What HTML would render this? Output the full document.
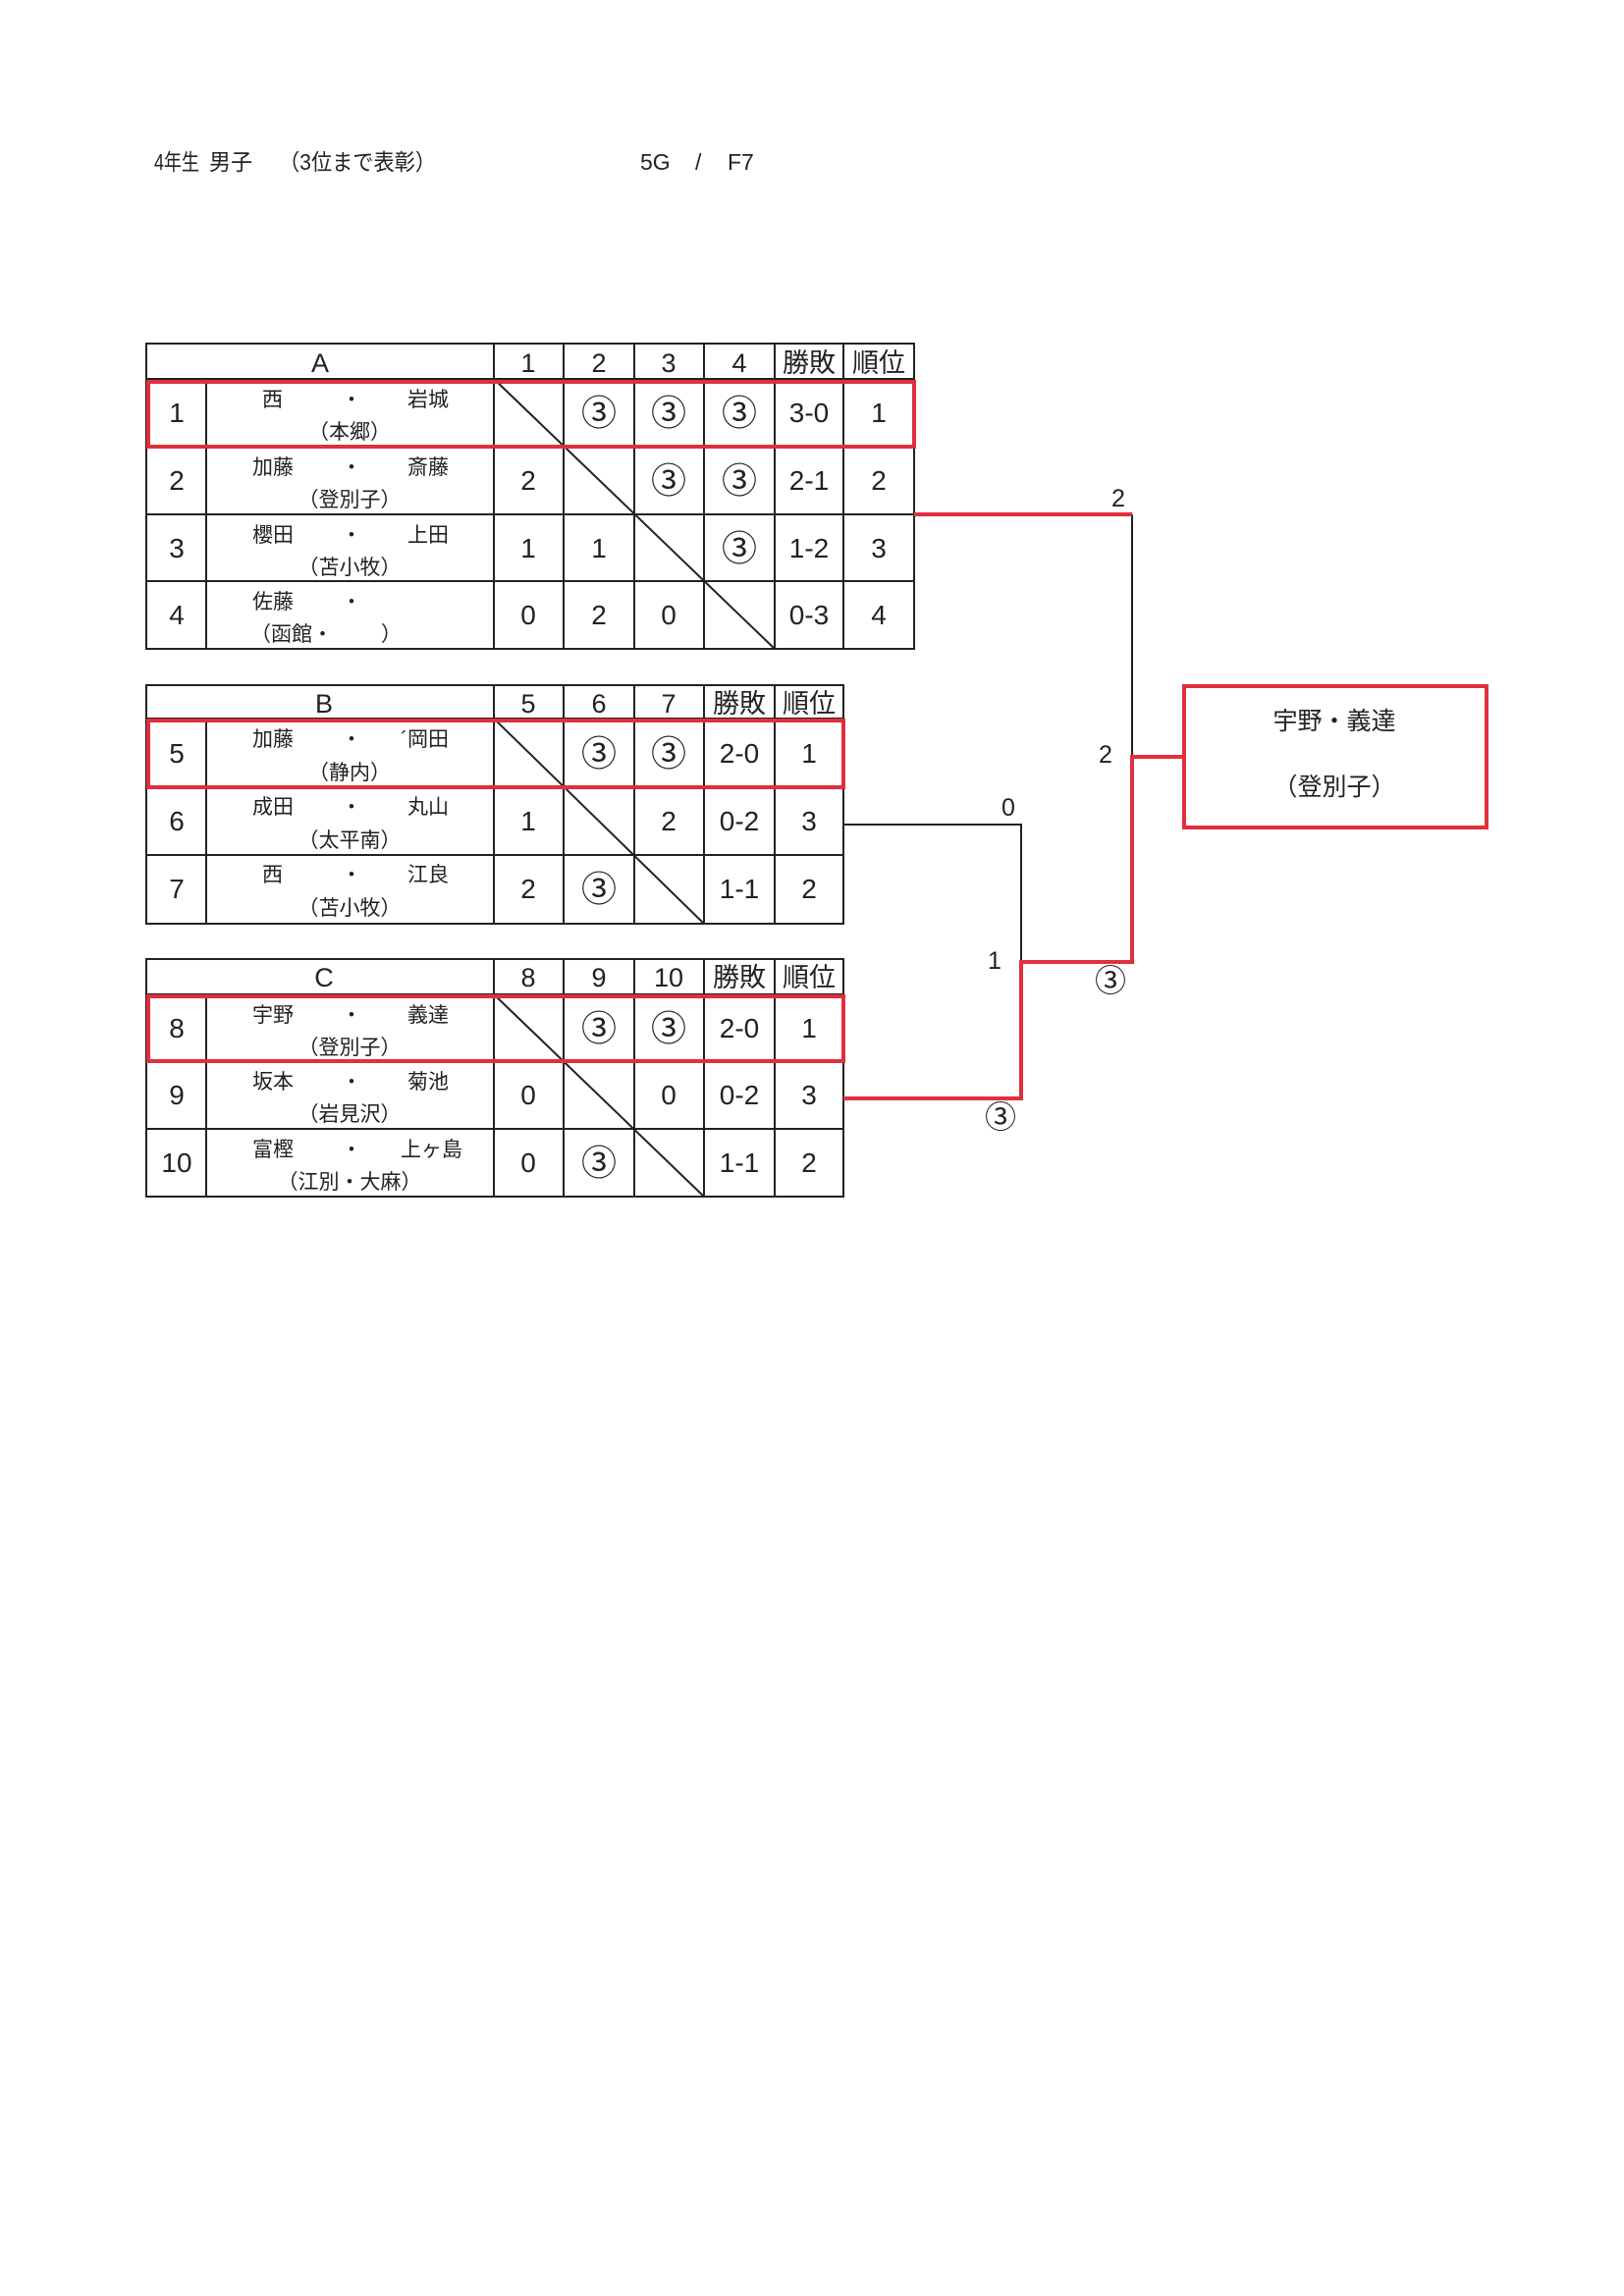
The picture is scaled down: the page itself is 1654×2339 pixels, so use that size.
<!DOCTYPE html>
<html><head><meta charset="utf-8"><style>
html,body{margin:0;padding:0;background:#fff;}
svg{display:block;}
text{font-family:"Liberation Sans","Noto Sans CJK JP",sans-serif;fill:#222;}
.n{font-size:21px;}
.v{font-size:28px;text-anchor:middle;}
.h{font-size:27px;text-anchor:middle;}
.c{text-anchor:middle;}
.o{font-size:36px;text-anchor:middle;}
</style></head><body>
<svg width="1654" height="2339" viewBox="0 0 1654 2339" xmlns="http://www.w3.org/2000/svg">
<g font-size="23">
<text x="157" y="173" textLength="46" lengthAdjust="spacingAndGlyphs">4年生</text><text x="213" y="173" textLength="44" lengthAdjust="spacingAndGlyphs">男子</text>
<text x="284" y="173" textLength="160" lengthAdjust="spacingAndGlyphs">（3位まで表彰）</text>
<text x="652" y="173">5G</text><text x="708" y="173">/</text><text x="741" y="173">F7</text>
</g>
<g stroke="#222" stroke-width="2" fill="none">
<rect x="149" y="350" width="782" height="311"/>
<line x1="149" y1="386" x2="931" y2="386"/><line x1="149" y1="455" x2="931" y2="455"/>
<line x1="149" y1="524" x2="931" y2="524"/><line x1="149" y1="592" x2="931" y2="592"/>
<line x1="210" y1="386" x2="210" y2="661"/>
<line x1="503" y1="350" x2="503" y2="661"/><line x1="574" y1="350" x2="574" y2="661"/>
<line x1="646" y1="350" x2="646" y2="661"/><line x1="717" y1="350" x2="717" y2="661"/>
<line x1="789" y1="350" x2="789" y2="661"/><line x1="859" y1="350" x2="859" y2="661"/>
<line x1="503" y1="386" x2="789" y2="661"/>
<rect x="149" y="698" width="710" height="243"/>
<line x1="149" y1="732" x2="859" y2="732"/><line x1="149" y1="802" x2="859" y2="802"/><line x1="149" y1="871" x2="859" y2="871"/>
<line x1="210" y1="732" x2="210" y2="941"/>
<line x1="503" y1="698" x2="503" y2="941"/><line x1="574" y1="698" x2="574" y2="941"/>
<line x1="646" y1="698" x2="646" y2="941"/><line x1="717" y1="698" x2="717" y2="941"/>
<line x1="789" y1="698" x2="789" y2="941"/>
<line x1="503" y1="732" x2="717" y2="941"/>
<rect x="149" y="977" width="710" height="242"/>
<line x1="149" y1="1013" x2="859" y2="1013"/><line x1="149" y1="1081" x2="859" y2="1081"/><line x1="149" y1="1150" x2="859" y2="1150"/>
<line x1="210" y1="1013" x2="210" y2="1219"/>
<line x1="503" y1="977" x2="503" y2="1219"/><line x1="574" y1="977" x2="574" y2="1219"/>
<line x1="646" y1="977" x2="646" y2="1219"/><line x1="717" y1="977" x2="717" y2="1219"/>
<line x1="789" y1="977" x2="789" y2="1219"/>
<line x1="503" y1="1013" x2="717" y2="1219"/>
<line x1="1153" y1="524" x2="1153" y2="771"/>
<polyline points="859,840 1040,840 1040,980"/>
</g>
<g stroke="#e0303c" stroke-width="4" fill="none">
<rect x="151" y="389" width="780" height="66"/>
<rect x="151" y="734" width="708" height="68"/>
<rect x="151" y="1015" width="708" height="66"/>
<rect x="1206" y="699" width="308" height="144"/>
<line x1="931" y1="524" x2="1153" y2="524"/>
<polyline points="1205,771 1153,771 1153,980 1040,980 1040,1119 859,1119"/>
</g>
<g>
<text class="h" x="326" y="379">A</text><text class="h" x="538" y="379">1</text><text class="h" x="610" y="379">2</text><text class="h" x="681" y="379">3</text><text class="h" x="753" y="379">4</text><text class="h" x="824" y="379">勝敗</text><text class="h" x="895" y="379">順位</text>
<text class="v" x="180" y="430">1</text>
<text class="n" x="267" y="414">西</text><text class="n c" x="358" y="414">・</text><text class="n" x="415" y="414">岩城</text><text class="n c" x="356" y="447">（本郷）</text>
<text class="o" x="610" y="433">③</text><text class="o" x="681" y="433">③</text><text class="o" x="753" y="433">③</text><text class="v" x="824" y="430">3-0</text><text class="v" x="895" y="430">1</text>
<text class="v" x="180" y="499">2</text>
<text class="n" x="257" y="483">加藤</text><text class="n c" x="358" y="483">・</text><text class="n" x="415" y="483">斎藤</text><text class="n c" x="356" y="516">（登別子）</text>
<text class="v" x="538" y="499">2</text><text class="o" x="681" y="502">③</text><text class="o" x="753" y="502">③</text><text class="v" x="824" y="499">2-1</text><text class="v" x="895" y="499">2</text>
<text class="v" x="180" y="568">3</text>
<text class="n" x="257" y="552">櫻田</text><text class="n c" x="358" y="552">・</text><text class="n" x="415" y="552">上田</text><text class="n c" x="356" y="585">（苫小牧）</text>
<text class="v" x="538" y="568">1</text><text class="v" x="610" y="568">1</text><text class="o" x="753" y="571">③</text><text class="v" x="824" y="568">1-2</text><text class="v" x="895" y="568">3</text>
<text class="v" x="180" y="636">4</text>
<text class="n" x="257" y="620">佐藤</text><text class="n c" x="358" y="620">・</text><text class="n" x="255" y="653">（函館・</text><text class="n" x="388" y="653">）</text>
<text class="v" x="538" y="636">0</text><text class="v" x="610" y="636">2</text><text class="v" x="681" y="636">0</text><text class="v" x="824" y="636">0-3</text><text class="v" x="895" y="636">4</text>
</g>
<g>
<text class="h" x="330" y="726">B</text><text class="h" x="538" y="726">5</text><text class="h" x="610" y="726">6</text><text class="h" x="681" y="726">7</text><text class="h" x="753" y="726">勝敗</text><text class="h" x="824" y="726">順位</text>
<text class="v" x="180" y="777">5</text>
<text class="n" x="257" y="760">加藤</text><text class="n c" x="358" y="760">・</text><text class="n" x="408" y="760">´岡田</text><text class="n c" x="356" y="794">（静内）</text>
<text class="o" x="610" y="780">③</text><text class="o" x="681" y="780">③</text><text class="v" x="753" y="777">2-0</text><text class="v" x="824" y="777">1</text>
<text class="v" x="180" y="846">6</text>
<text class="n" x="257" y="829">成田</text><text class="n c" x="358" y="829">・</text><text class="n" x="415" y="829">丸山</text><text class="n c" x="356" y="863">（太平南）</text>
<text class="v" x="538" y="846">1</text><text class="v" x="681" y="846">2</text><text class="v" x="753" y="846">0-2</text><text class="v" x="824" y="846">3</text>
<text class="v" x="180" y="915">7</text>
<text class="n" x="267" y="898">西</text><text class="n c" x="358" y="898">・</text><text class="n" x="415" y="898">江良</text><text class="n c" x="356" y="932">（苫小牧）</text>
<text class="v" x="538" y="915">2</text><text class="o" x="610" y="918">③</text><text class="v" x="753" y="915">1-1</text><text class="v" x="824" y="915">2</text>
</g>
<g>
<text class="h" x="330" y="1005">C</text><text class="h" x="538" y="1005">8</text><text class="h" x="610" y="1005">9</text><text class="h" x="681" y="1005">10</text><text class="h" x="753" y="1005">勝敗</text><text class="h" x="824" y="1005">順位</text>
<text class="v" x="180" y="1057">8</text>
<text class="n" x="257" y="1041">宇野</text><text class="n c" x="358" y="1041">・</text><text class="n" x="415" y="1041">義達</text><text class="n c" x="356" y="1074">（登別子）</text>
<text class="o" x="610" y="1060">③</text><text class="o" x="681" y="1060">③</text><text class="v" x="753" y="1057">2-0</text><text class="v" x="824" y="1057">1</text>
<text class="v" x="180" y="1125">9</text>
<text class="n" x="257" y="1109">坂本</text><text class="n c" x="358" y="1109">・</text><text class="n" x="415" y="1109">菊池</text><text class="n c" x="356" y="1142">（岩見沢）</text>
<text class="v" x="538" y="1125">0</text><text class="v" x="681" y="1125">0</text><text class="v" x="753" y="1125">0-2</text><text class="v" x="824" y="1125">3</text>
<text class="v" x="180" y="1194">10</text>
<text class="n" x="257" y="1178">富樫</text><text class="n c" x="358" y="1178">・</text><text class="n" x="408" y="1178">上ヶ島</text><text class="n c" x="356" y="1211">（江別・大麻）</text>
<text class="v" x="538" y="1194">0</text><text class="o" x="610" y="1197">③</text><text class="v" x="753" y="1194">1-1</text><text class="v" x="824" y="1194">2</text>
</g>
<g font-size="25" text-anchor="middle">
<text x="1139" y="516">2</text>
<text x="1126" y="777">2</text>
<text x="1131" y="1010" font-size="32">③</text>
<text x="1027" y="831">0</text>
<text x="1013" y="987">1</text>
<text x="1019" y="1149" font-size="32">③</text>
<text x="1359" y="743">宇野・義達</text>
<text x="1359" y="810">（登別子）</text>
</g>
</svg>
</body></html>
